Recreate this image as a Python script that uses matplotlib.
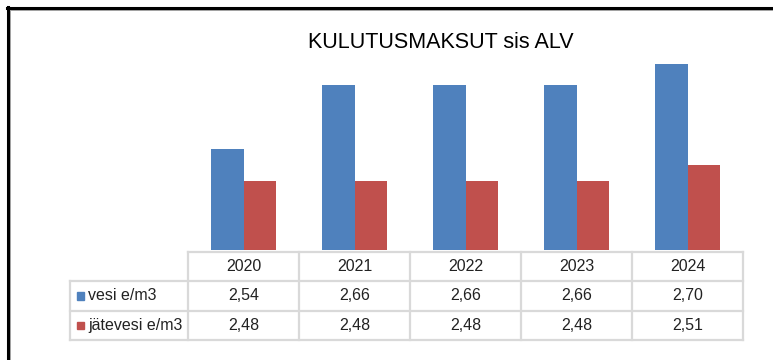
import matplotlib
matplotlib.use('Agg')
import matplotlib.pyplot as plt
from matplotlib.lines import Line2D
from matplotlib.patches import Rectangle

years = ['2020', '2021', '2022', '2023', '2024']
vesi = [2.54, 2.66, 2.66, 2.66, 2.70]
jatevesi = [2.48, 2.48, 2.48, 2.48, 2.51]
series_names = ['vesi e/m3', 'jätevesi e/m3']
title = 'KULUTUSMAKSUT sis ALV'

blue = '#4F81BD'
red = '#C0504D'
grid_col = '#D9D9D9'
txt_col = '#222222'

plt.rcParams['font.family'] = ['Liberation Sans', 'DejaVu Sans']

W, H = 773, 360
fig = plt.figure(figsize=(W / 100, H / 100), dpi=100)

def box(x0, y0, x1, y1):
    # pixel box (top-left origin) -> figure fraction rect
    return [x0 / W, 1 - y1 / H, (x1 - x0) / W, (y1 - y0) / H]

# bar area
ax = fig.add_axes(box(188, 37, 743, 250))
x = range(len(years))
bw = 0.295
ax.bar([i - bw / 2 for i in x], vesi, bw, color=blue, zorder=2)
ax.bar([i + bw / 2 for i in x], jatevesi, bw, color=red, zorder=2)
ax.set_xlim(-0.5, len(years) - 0.5)
ax.set_ylim(2.35, 2.75)
ax.axis('off')

fig.text(441 / W, 1 - 43 / H, title, ha='center', va='center',
         fontsize=15.5, color='black')

# data table below the bars
tab = fig.add_axes(box(188, 252, 743, 340))
tab.set_xlim(-0.5, len(years) - 0.5)
tab.set_ylim(3, 0)
tab.axis('off')
lab_left = -0.5 - 118 / 111
lw = 1.6
fs = 11.5

# horizontal lines
tab.add_line(Line2D([-0.5, len(years) - 0.5], [0, 0], color=grid_col, lw=lw, clip_on=False))
for r in (1, 2, 3):
    tab.add_line(Line2D([lab_left, len(years) - 0.5], [r, r], color=grid_col, lw=lw, clip_on=False))
# vertical lines
tab.add_line(Line2D([lab_left, lab_left], [1, 3], color=grid_col, lw=lw, clip_on=False))
for c in range(len(years) + 1):
    tab.add_line(Line2D([c - 0.5, c - 0.5], [0, 3], color=grid_col, lw=lw, clip_on=False))

fmt = lambda v: f'{v:.2f}'.replace('.', ',')
for i, yr in enumerate(years):
    tab.text(i, 0.5, yr, ha='center', va='center', fontsize=fs, color=txt_col)
    tab.text(i, 1.5, fmt(vesi[i]), ha='center', va='center', fontsize=fs, color=txt_col)
    tab.text(i, 2.5, fmt(jatevesi[i]), ha='center', va='center', fontsize=fs, color=txt_col)

for r, (name, col) in enumerate(zip(series_names, [blue, red])):
    yc = 1.5 + r
    tab.add_patch(Rectangle((lab_left + 7 / 111, yc - 0.13), 7 / 111, 0.26,
                            color=col, clip_on=False))
    tab.text(lab_left + 18 / 111, yc, name, ha='left', va='center',
             fontsize=fs, color=txt_col)

# chart frame: heavy top and left edge
fig.add_artist(Line2D([7 / W, 1], [1 - 8 / H, 1 - 8 / H], color='black', lw=2.2,
                      transform=fig.transFigure))
fig.add_artist(Line2D([8 / W, 8 / W], [0, 1 - 7 / H], color='black', lw=2.2,
                      transform=fig.transFigure))
fig.add_artist(Line2D([10 / W, 1], [1 - 10 / H, 1 - 10 / H], color='#A0A0A0', lw=0.7,
                      transform=fig.transFigure))
fig.add_artist(Line2D([10 / W, 10 / W], [0, 1 - 10 / H], color='#A0A0A0', lw=0.7,
                      transform=fig.transFigure))

fig.savefig('out.png', dpi=100)
